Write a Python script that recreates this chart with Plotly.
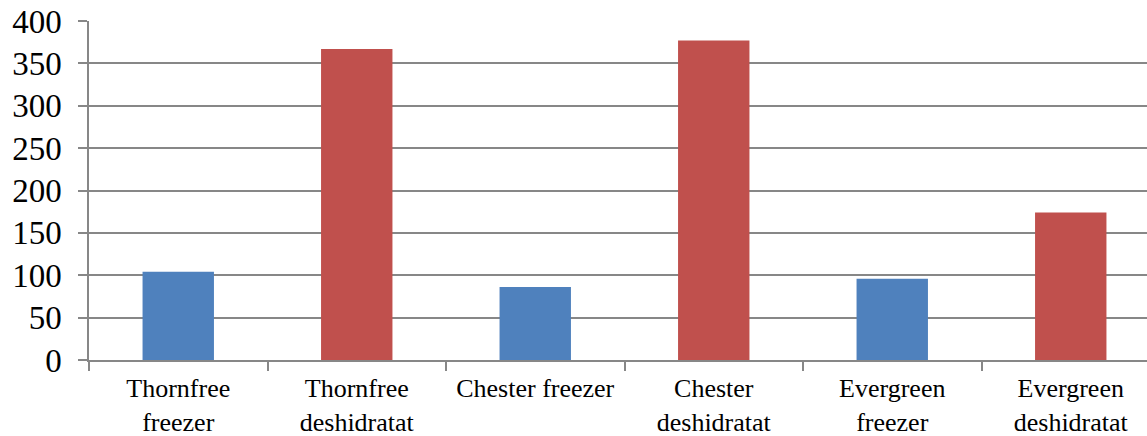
import plotly.graph_objects as go

# Fruit dry-matter comparison by cultivar and preservation method
categories = [
    "Thornfree<br>freezer",
    "Thornfree<br>deshidratat",
    "Chester freezer",
    "Chester<br>deshidratat",
    "Evergreen<br>freezer",
    "Evergreen<br>deshidratat",
]
values = [104, 367, 86, 377, 96, 174]
methods = ["freezer", "deshidratat", "freezer", "deshidratat", "freezer", "deshidratat"]
y_ticks = [0, 50, 100, 150, 200, 250, 300, 350, 400]

method_colors = {"freezer": "#4F81BD", "deshidratat": "#C0504D"}
grid = "#878787"

positions = list(range(len(categories)))
boundaries = [p - 0.5 for p in positions] + [positions[-1] + 0.5]

W, H = 1147, 436
left, top, bottom = 89, 21, 76
# the last category slot runs slightly past the right edge
slot_px = 178.5
x_right = positions[-1] + 0.5 - (left + slot_px * len(categories) - W) / slot_px
x_range = [-0.5, x_right]

fig = go.Figure()
fig.add_trace(go.Bar(
    x=positions,
    y=values,
    width=0.4,
    marker=dict(color=[method_colors[m] for m in methods], line=dict(width=0)),
    showlegend=False,
    hoverinfo="skip",
))
# invisible carrier so the category label axis is rendered
fig.add_trace(go.Scatter(
    x=positions,
    y=[0] * len(positions),
    xaxis="x2",
    mode="markers",
    marker=dict(opacity=0),
    showlegend=False,
    hoverinfo="skip",
))

fig.update_layout(
    width=W,
    height=H,
    margin=dict(l=left, r=0, t=top, b=bottom),
    paper_bgcolor="white",
    plot_bgcolor="white",
    font=dict(family="Liberation Serif, Times New Roman, serif", color="black"),
    xaxis=dict(
        range=x_range,
        tickmode="array",
        tickvals=boundaries,
        showticklabels=False,
        ticks="outside",
        ticklen=9,
        tickwidth=1.5,
        tickcolor=grid,
        showline=True,
        linecolor=grid,
        linewidth=1.5,
        showgrid=False,
        zeroline=False,
    ),
    xaxis2=dict(
        range=x_range,
        overlaying="x",
        anchor="y",
        side="bottom",
        tickmode="array",
        tickvals=positions,
        ticktext=categories,
        ticks="",
        ticklen=0,
        ticklabelstandoff=10,
        showline=False,
        showgrid=False,
        zeroline=False,
        tickfont=dict(size=26),
    ),
    yaxis=dict(
        range=[0, 400],
        tickmode="array",
        tickvals=y_ticks,
        ticks="outside",
        ticklen=9,
        tickwidth=1.5,
        tickcolor=grid,
        ticklabelstandoff=10,
        showline=True,
        linecolor=grid,
        linewidth=1.5,
        showgrid=True,
        gridcolor=grid,
        gridwidth=1.5,
        zeroline=False,
        tickfont=dict(size=33),
    ),
)

fig.write_html("out.html")
